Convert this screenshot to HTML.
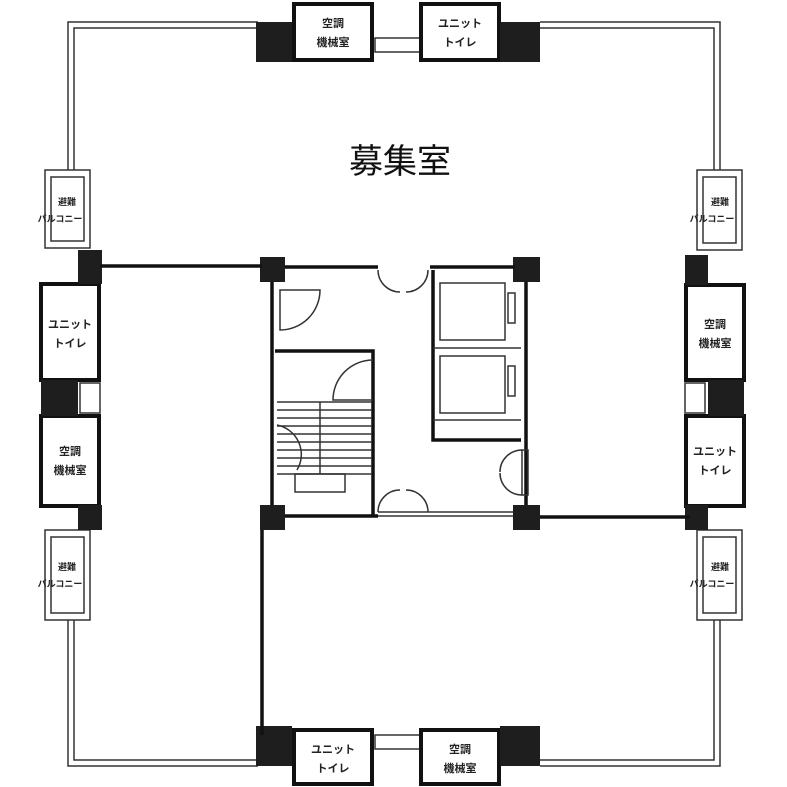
<!DOCTYPE html>
<html><head><meta charset="utf-8"><style>
html,body{margin:0;padding:0;background:#fff}
svg{display:block}
text{font-family:"Liberation Sans","Noto Sans CJK JP",sans-serif;font-weight:bold;fill:#222}
</style></head><body>
<svg width="787" height="787" viewBox="0 0 787 787" xmlns="http://www.w3.org/2000/svg">
<g fill="none" stroke="#333" stroke-width="1.5">
<!-- outer perimeter double lines -->
<path d="M258 22 H68 V170 M262 28 H74 V170"/>
<path d="M540 22 H720 V170 M540 28 H714 V170"/>
<path d="M258 766 H68 V620 M262 760 H74 V620"/>
<path d="M540 766 H720 V620 M540 760 H714 V620"/>
<!-- balconies -->
<rect x="45" y="170" width="45" height="78"/><rect x="51" y="177" width="33" height="64"/>
<rect x="45" y="530" width="45" height="90"/><rect x="51" y="537" width="33" height="76"/>
<rect x="697" y="170" width="45" height="80"/><rect x="703" y="177" width="33" height="66"/>
<rect x="697" y="530" width="45" height="90"/><rect x="703" y="537" width="33" height="76"/>
<!-- small items -->
<rect x="375" y="38" width="45" height="14"/><rect x="375" y="735" width="45" height="14"/>
<rect x="80" y="383" width="20" height="30"/><rect x="685" y="383" width="20" height="30"/>
</g>
<g fill="none" stroke="#111" stroke-width="4">
<!-- top boxes -->
<rect x="294" y="4" width="78" height="56"/><rect x="421" y="4" width="78" height="56"/>
<rect x="294" y="730" width="78" height="54"/><rect x="421" y="730" width="78" height="54"/>
<!-- side boxes -->
<rect x="41" y="284" width="58" height="96"/><rect x="41" y="416" width="58" height="90"/>
<rect x="686" y="285" width="58" height="95"/><rect x="686" y="416" width="58" height="90"/>
</g>
<g fill="#1e1e1e">
<rect x="256" y="22" width="36" height="40"/><rect x="500" y="22" width="40" height="40"/>
<rect x="256" y="726" width="36" height="40"/><rect x="500" y="726" width="40" height="40"/>
<rect x="78" y="250" width="24" height="34"/><rect x="78" y="505" width="24" height="25"/>
<rect x="685" y="255" width="23" height="30"/><rect x="685" y="505" width="23" height="25"/>
<rect x="41" y="380" width="37" height="36"/><rect x="708" y="380" width="36" height="36"/>
<rect x="260" y="257" width="25" height="25"/><rect x="513" y="257" width="27" height="25"/>
<rect x="260" y="505" width="25" height="25"/><rect x="513" y="505" width="27" height="25"/>
</g>
<g stroke="#111" stroke-width="3.5" fill="none">
<path d="M100 266 H262"/><path d="M285 267 H378 M430 267 H515"/>
<path d="M540 517 H690"/><path d="M262 530 V735"/>
<path d="M272 282 V505"/><path d="M526 282 V505"/>
<path d="M285 516 H378"/>
<path d="M275 351 H373 V516"/>
<path d="M433 270 V440 H521"/>
</g>
<g stroke="#333" stroke-width="1.5" fill="none">
<path d="M378 516 H513 M378 512 H513"/>
<rect x="440" y="283" width="65" height="57"/><rect x="440" y="356" width="65" height="57"/>
<path d="M433 348 H521 M433 420 H521"/>
<rect x="508" y="293" width="7" height="30"/><rect x="508" y="366" width="7" height="30"/>
<path d="M320 290 A40 40 0 0 1 280 330 V290 Z"/>
<path d="M373 360 A40 40 0 0 0 333 400 H373"/>
<path d="M378 270 A22 22 0 0 0 400 292 M428 270 A22 22 0 0 1 406 292"/>
<path d="M378 512 A22 22 0 0 1 400 490 M428 512 A22 22 0 0 0 406 490"/>
<path d="M522 450 A22 22 0 0 0 500 472 M522 495 A22 22 0 0 1 500 473"/>
<rect x="522" y="450" width="6" height="45"/>
<path d="M277 402 H372 M277 410 H372 M277 418 H372 M277 426 H372 M277 434 H372 M277 442 H372 M277 450 H372 M277 458 H372 M277 466 H372 M277 474 H372"/>
<path d="M320 402 V474"/><rect x="295" y="474" width="50" height="18"/>
<path d="M277 425 A30 30 0 0 1 297 470"/>
</g>
<text x="400" y="173" font-size="34" font-weight="normal" text-anchor="middle" style="font-weight:normal;fill:#111">募集室</text>
<g font-size="11" text-anchor="middle">
<text x="333" y="27">空調</text><text x="333" y="46">機械室</text>
<text x="460" y="27">ユニット</text><text x="460" y="46">トイレ</text>
<text x="333" y="753">ユニット</text><text x="333" y="772">トイレ</text>
<text x="460" y="753">空調</text><text x="460" y="772">機械室</text>
<text x="70" y="328">ユニット</text><text x="70" y="347">トイレ</text>
<text x="70" y="455">空調</text><text x="70" y="474">機械室</text>
<text x="715" y="328">空調</text><text x="715" y="347">機械室</text>
<text x="715" y="455">ユニット</text><text x="715" y="474">トイレ</text>
<text x="67" y="205" font-size="9">避難</text><text x="60" y="222" font-size="9">バルコニー</text>
<text x="67" y="570" font-size="9">避難</text><text x="60" y="587" font-size="9">バルコニー</text>
<text x="720" y="205" font-size="9">避難</text><text x="712" y="222" font-size="9">バルコニー</text>
<text x="720" y="570" font-size="9">避難</text><text x="712" y="587" font-size="9">バルコニー</text>
</g>
</svg>
</body></html>
